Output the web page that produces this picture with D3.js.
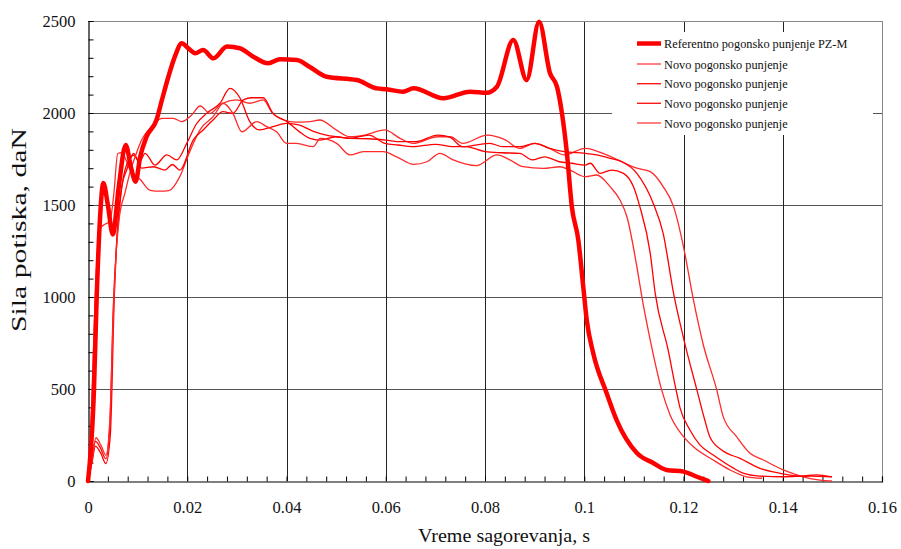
<!DOCTYPE html>
<html>
<head>
<meta charset="utf-8">
<script src="https://cdn.jsdelivr.net/npm/d3@7"></script>
<style>
  html, body { margin: 0; padding: 0; background: #fff; }
  svg { display: block; }
  text { font-family: "Liberation Serif", "Times New Roman", serif; fill: #111; }
</style>
</head>
<body>
<svg id="chart" width="901" height="549"></svg>
<script>
// ---------------- data ----------------
const seriesNames = [
  "Referentno pogonsko punjenje PZ-M",
  "Novo pogonsko punjenje",
  "Novo pogonsko punjenje",
  "Novo pogonsko punjenje",
  "Novo pogonsko punjenje"
];

const xTickLabels = ["0", "0.02", "0.04", "0.06", "0.08", "0.1", "0.12", "0.14", "0.16"];
const yTickLabels = ["0", "500", "1000", "1500", "2000", "2500"];

// Reference charge (thick)
const refT = [0, 0.0012, 0.00175, 0.0024, 0.0031, 0.0040, 0.0050, 0.0062, 0.0076, 0.0087, 0.0096, 0.0105, 0.0118, 0.0138, 0.0149, 0.0162, 0.0175, 0.0189, 0.0202, 0.0216, 0.0232, 0.0253, 0.028, 0.0306, 0.0333, 0.0363, 0.0387, 0.0421, 0.0447, 0.0481, 0.0542, 0.0582, 0.0602, 0.0635, 0.0656, 0.0716, 0.077, 0.0803, 0.0824, 0.0857, 0.0884, 0.0909, 0.0931, 0.0945, 0.0955, 0.0965, 0.0975, 0.0988, 0.0998, 0.1005, 0.1018, 0.1045, 0.1065, 0.1106, 0.1139, 0.1166, 0.12, 0.1227, 0.125];
const refV = [0, 495, 996, 1418, 1620, 1500, 1340, 1600, 1826, 1700, 1627, 1760, 1871, 1962, 2071, 2197, 2306, 2379, 2352, 2325, 2342, 2297, 2361, 2352, 2306, 2270, 2292, 2288, 2250, 2197, 2179, 2134, 2129, 2116, 2134, 2080, 2116, 2110, 2143, 2397, 2179, 2496, 2216, 2143, 2000, 1783, 1491, 1310, 1056, 875, 696, 478, 332, 152, 98, 60, 51, 23, 0];

// New charge 1
const n1T = [0, 0.0006, 0.0012, 0.0018, 0.0024, 0.0034, 0.0044, 0.0052, 0.006, 0.0068, 0.0085, 0.0105, 0.0125, 0.0145, 0.0163, 0.0185, 0.0205, 0.0226, 0.0252, 0.0272, 0.030, 0.0326, 0.0353, 0.0372, 0.0395, 0.0418, 0.0447, 0.0467, 0.050, 0.0528, 0.0558, 0.0598, 0.0629, 0.0655, 0.0705, 0.073, 0.0755, 0.0805, 0.084, 0.087, 0.090, 0.093, 0.096, 0.1002, 0.1045, 0.1106, 0.1133, 0.1159, 0.118, 0.12, 0.122, 0.124, 0.1267, 0.128, 0.1307, 0.1334, 0.1361, 0.1401, 0.1441, 0.1475, 0.1499];
const n1V = [0, 300, 800, 1200, 1370, 1395, 1410, 1560, 1780, 1785, 1690, 1640, 1580, 1575, 1578, 1654, 1790, 1910, 1980, 2053, 2071, 2053, 2071, 1998, 1962, 1950, 1953, 1962, 1908, 1871, 1880, 1908, 1862, 1835, 1871, 1871, 1835, 1880, 1855, 1808, 1835, 1808, 1772, 1808, 1772, 1700, 1681, 1600, 1491, 1273, 984, 739, 495, 350, 241, 151, 114, 60, 23, 5, 0];

// New charge 2
const n2T = [0, 0.0008, 0.0015, 0.0025, 0.0036, 0.0044, 0.0051, 0.0058, 0.0066, 0.0078, 0.0092, 0.0104, 0.0115, 0.0135, 0.0159, 0.0179, 0.0199, 0.0219, 0.0239, 0.0266, 0.0286, 0.0306, 0.0326, 0.0346, 0.0373, 0.040, 0.0425, 0.0454, 0.048, 0.0501, 0.0528, 0.0565, 0.06, 0.063, 0.066, 0.0705, 0.073, 0.0755, 0.078, 0.081, 0.0835, 0.087, 0.09, 0.093, 0.096, 0.1002, 0.1025, 0.1052, 0.1076, 0.1106, 0.1139, 0.1159, 0.118, 0.1201, 0.1227, 0.1243, 0.1253, 0.1277, 0.1314, 0.1354, 0.1395, 0.1435, 0.1468, 0.1499];
const n2V = [0, 120, 215, 180, 120, 300, 950, 1300, 1550, 1720, 1770, 1735, 1781, 1717, 1772, 1745, 1835, 1943, 1998, 2053, 2134, 2083, 1953, 1908, 1926, 1944, 1935, 1900, 1880, 1871, 1862, 1860, 1853, 1844, 1844, 1880, 1867, 1817, 1825, 1835, 1817, 1817, 1835, 1808, 1790, 1781, 1772, 1754, 1735, 1672, 1509, 1346, 1020, 766, 495, 330, 241, 168, 123, 69, 42, 27, 33, 22];

// New charge 3
const n3T = [0, 0.0008, 0.0015, 0.0026, 0.0036, 0.0045, 0.0053, 0.006, 0.0068, 0.0078, 0.0092, 0.0108, 0.0132, 0.0155, 0.017, 0.0185, 0.0212, 0.0232, 0.0252, 0.0272, 0.0292, 0.0313, 0.033, 0.0353, 0.0373, 0.0401, 0.0425, 0.0447, 0.0467, 0.050, 0.0528, 0.0566, 0.0598, 0.0625, 0.0655, 0.070, 0.0735, 0.0762, 0.080, 0.0834, 0.087, 0.0895, 0.092, 0.095, 0.0975, 0.1002, 0.1012, 0.1032, 0.1055, 0.1079, 0.1099, 0.1112, 0.1133, 0.1143, 0.1169, 0.1185, 0.1193, 0.1213, 0.1233, 0.126, 0.13, 0.132, 0.1354, 0.14, 0.1455, 0.1499];
const n3V = [0, 100, 190, 150, 95, 250, 1000, 1400, 1600, 1690, 1780, 1700, 1708, 1690, 1720, 1690, 1853, 1908, 1962, 2007, 1998, 2071, 2083, 2083, 1998, 1953, 1900, 1862, 1853, 1871, 1862, 1880, 1835, 1826, 1817, 1830, 1817, 1817, 1790, 1784, 1781, 1745, 1762, 1735, 1727, 1717, 1727, 1672, 1690, 1672, 1600, 1491, 1237, 1020, 712, 495, 397, 277, 196, 141, 71, 43, 27, 23, 27, 23];

// New charge 4
const n4T = [0, 0.0008, 0.0016, 0.0026, 0.0036, 0.0044, 0.0051, 0.0057, 0.0064, 0.0074, 0.0085, 0.0095, 0.0108, 0.0128, 0.0149, 0.0172, 0.0189, 0.0209, 0.0226, 0.0246, 0.0272, 0.0292, 0.031, 0.034, 0.036, 0.038, 0.040, 0.042, 0.0454, 0.0468, 0.0501, 0.0528, 0.0555, 0.0595, 0.0622, 0.0656, 0.0683, 0.0709, 0.0736, 0.0783, 0.0824, 0.085, 0.0877, 0.0917, 0.0951, 0.0971, 0.1002, 0.1025, 0.1052, 0.1072, 0.1086, 0.1106, 0.1116, 0.1133, 0.1156, 0.1173, 0.12, 0.122, 0.126, 0.1294, 0.1327, 0.1358];
const n4V = [0, 110, 235, 195, 140, 330, 900, 1250, 1450, 1560, 1680, 1762, 1853, 1926, 1971, 1971, 1953, 1989, 2038, 1998, 2053, 1998, 1898, 1953, 1926, 1898, 1835, 1835, 1817, 1862, 1835, 1772, 1790, 1790, 1762, 1721, 1735, 1781, 1745, 1714, 1772, 1745, 1708, 1699, 1708, 1690, 1654, 1663, 1600, 1527, 1436, 1165, 1002, 766, 495, 359, 241, 186, 114, 60, 23, 15];

// ---------------- chart ----------------
const svg = d3.select("#chart");
const x = d3.scaleLinear().domain([0, 0.16]).range([88, 882]);
const y = d3.scaleLinear().domain([0, 2500]).range([481, 21]);

// grid lines
const gx = d3.range(1, 8).map(i => i * 0.02);
const gy = d3.range(1, 5).map(i => i * 500);
svg.append("g").selectAll("line").data(gy).join("line")
  .attr("x1", x(0)).attr("x2", x(0.16))
  .attr("y1", d => Math.round(y(d)) + 0.5).attr("y2", d => Math.round(y(d)) + 0.5)
  .attr("stroke", "#555").attr("stroke-width", 1);
svg.append("g").selectAll("line").data(gx).join("line")
  .attr("x1", d => Math.round(x(d)) + 0.5).attr("x2", d => Math.round(x(d)) + 0.5)
  .attr("y1", y(2500)).attr("y2", y(0))
  .attr("stroke", "#222").attr("stroke-width", 1);

// top / right border
svg.append("line").attr("x1", x(0)).attr("x2", x(0.16) + 0.5)
  .attr("y1", Math.round(y(2500)) + 0.5).attr("y2", Math.round(y(2500)) + 0.5)
  .attr("stroke", "#888");
svg.append("line").attr("x1", Math.round(x(0.16)) + 0.5).attr("x2", Math.round(x(0.16)) + 0.5)
  .attr("y1", y(2500)).attr("y2", y(0))
  .attr("stroke", "#888");

// legend background (hides grid behind legend)
svg.append("rect").attr("x", 612).attr("y", 32).attr("width", 261).attr("height", 103).attr("fill", "#fff");

// axes
const xTicks = d3.range(0, 41).map(i => i * 0.004);
const xAxis = d3.axisBottom(x).tickValues(xTicks).tickSize(-5).tickPadding(20)
  .tickFormat((d, i) => i % 5 === 0 ? xTickLabels[i / 5] : "");
const gX = svg.append("g").attr("transform", `translate(0,${Math.round(y(0)) + 0.5})`).call(xAxis);

const yTicks = d3.range(0, 26).map(i => i * 100);
const yAxis = d3.axisLeft(y).tickValues(yTicks).tickSize(-5).tickPadding(13)
  .tickFormat((d, i) => i % 5 === 0 ? yTickLabels[i / 5] : "");
const gY = svg.append("g").attr("transform", `translate(${Math.round(x(0)) + 0.5},0)`).call(yAxis);

[gX, gY].forEach(g => {
  g.select(".domain").attr("stroke", "#000").attr("stroke-width", 1.2);
  g.selectAll(".tick line").attr("stroke", "#000");
  g.selectAll(".tick text").attr("font-family", "Liberation Serif, serif")
    .attr("font-size", 16.5).attr("fill", "#111");
});

// axis titles
svg.append("text").attr("x", 504).attr("y", 542).attr("text-anchor", "middle")
  .attr("font-size", 19).attr("textLength", 172).attr("lengthAdjust", "spacingAndGlyphs")
  .text("Vreme sagorevanja, s");
svg.append("text").attr("transform", "translate(26,230) rotate(-90)").attr("text-anchor", "middle")
  .attr("font-size", 21).attr("textLength", 204).attr("lengthAdjust", "spacingAndGlyphs")
  .text("Sila potiska, daN");

// curves
const line = d3.line().x(d => x(d[0])).y(d => y(d[1])).curve(d3.curveMonotoneX);
const zip = (T, V) => T.map((t, i) => [t, V[i]]);
const thinSeries = [
  { d: zip(n1T, n1V), c: "#ff2a2a" },
  { d: zip(n2T, n2V), c: "#ff0000" },
  { d: zip(n3T, n3V), c: "#ff0000" },
  { d: zip(n4T, n4V), c: "#ff2a2a" }
];
svg.append("g").selectAll("path").data(thinSeries).join("path")
  .attr("d", s => line(s.d)).attr("fill", "none")
  .attr("stroke", s => s.c).attr("stroke-width", 1.3).attr("stroke-linejoin", "round");
svg.append("path").attr("d", line(zip(refT, refV))).attr("fill", "none")
  .attr("stroke", "#ff0000").attr("stroke-width", 4.5).attr("stroke-linejoin", "round").attr("stroke-linecap", "round");

// legend
const legY = [43.5, 64, 83.7, 103.3, 123];
const legColors = ["#ff0000", "#ff4d4d", "#ff1a1a", "#ff1a1a", "#ff4d4d"];
const leg = svg.append("g");
seriesNames.forEach((name, i) => {
  leg.append("line").attr("x1", 637).attr("x2", 661).attr("y1", legY[i]).attr("y2", legY[i])
    .attr("stroke", legColors[i]).attr("stroke-width", i === 0 ? 4.5 : 1.4);
  leg.append("text").attr("x", 664).attr("y", legY[i] + 4.5)
    .attr("font-size", 12.3).text(name);
});
</script>
</body>
</html>
